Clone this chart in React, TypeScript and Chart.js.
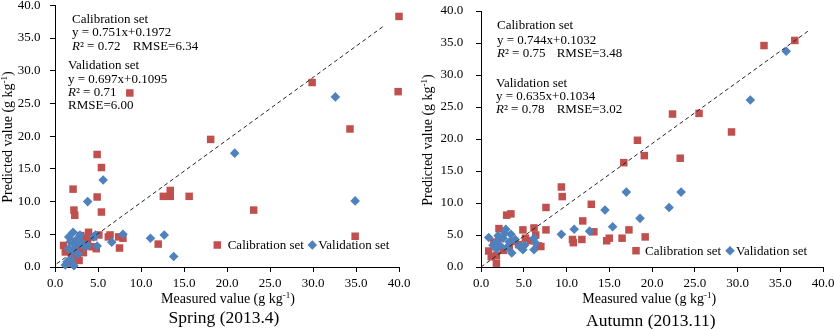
import React, { useEffect, useRef } from 'react';
import { Chart, registerables } from 'chart.js';

Chart.register(...registerables);

type Pt = [number, number];

const tickValues = [0, 5, 10, 15, 20, 25, 30, 35, 40];
const tickLabels = ['0.0', '5.0', '10.0', '15.0', '20.0', '25.0', '30.0', '35.0', '40.0'];

const seriesNames = ['Calibration set', 'Validation set'];

// Spring (2013.4)
const springCalibration: Pt[] = [
  [40.0, 38.3], [8.7, 26.6], [29.9, 28.2], [39.9, 26.8], [34.3, 21.1], [18.1, 19.5],
  [4.9, 17.2], [5.4, 15.2], [2.1, 11.9], [2.2, 8.7], [2.3, 7.9], [4.9, 10.7], [5.4, 8.4],
  [12.6, 10.8], [13.4, 11.7], [13.4, 10.8], [15.6, 10.8], [23.1, 8.7], [34.9, 4.7],
  [12.0, 3.5], [7.5, 2.9], [7.9, 4.4], [7.4, 4.6], [6.2, 4.6], [6.4, 4.9], [3.9, 5.3],
  [3.8, 4.2], [3.6, 4.4], [4.5, 4.6], [1.0, 3.3], [1.2, 2.3], [2.6, 1.3], [3.2, 2.8],
  [4.3, 3.1], [1.6, 0.6], [2.8, 1.0], [2.0, 3.9], [2.9, 3.6], [3.3, 2.2], [4.8, 2.8],
  [2.4, 2.6], [1.9, 2.0], [3.0, 4.8], [5.1, 4.9],
];
const springValidation: Pt[] = [
  [32.6, 26.0], [20.9, 17.4], [5.6, 13.3], [3.8, 10.0], [34.9, 10.1], [11.1, 4.4],
  [12.7, 4.9], [7.9, 5.0], [6.6, 3.8], [4.9, 3.2], [4.7, 4.9], [13.8, 1.6], [2.1, 5.3],
  [1.4, 0.8], [2.2, 0.2], [3.8, 3.3], [1.8, 3.9], [2.4, 3.3], [1.6, 2.8], [3.4, 3.1],
  [1.2, 0.3], [1.6, 4.6], [2.5, 4.2], [2.9, 4.9], [2.0, 2.5], [3.0, 3.9], [4.5, 4.6],
  [2.7, 2.0], [1.9, 1.2],
];
const springRefLine: Pt[] = [[0.2, 0.5], [38.3, 36.9]];
const springStats = ['y = 0.751x+0.1972', '0.72', 'RMSE=6.34', 'y = 0.697x+0.1095', '0.71', 'RMSE=6.00'];

// Autumn (2013.11)
const autumnCalibration: Pt[] = [
  [36.7, 35.4], [33.1, 34.6], [25.5, 24.0], [22.4, 23.9], [29.3, 21.1], [18.3, 19.8],
  [19.1, 17.4], [23.3, 17.0], [16.7, 16.3], [9.4, 12.5], [9.5, 11.0], [7.6, 9.3],
  [12.9, 9.8], [11.9, 7.2], [7.6, 5.8], [13.2, 5.5], [10.7, 4.3], [10.8, 3.8], [11.8, 4.3],
  [14.7, 4.1], [15.0, 4.5], [16.5, 4.5], [17.3, 5.8], [19.2, 4.7], [7.0, 3.2], [3.0, 8.1],
  [3.5, 8.3], [2.1, 6.0], [4.9, 5.8], [6.2, 6.1], [6.4, 5.0], [0.9, 2.5], [1.2, 1.6],
  [1.8, 0.6], [1.8, 1.8], [4.4, 3.5], [6.7, 3.3], [5.2, 4.5], [2.1, 4.5], [3.9, 4.0],
  [2.6, 2.6], [5.8, 4.1], [1.5, 3.9], [3.3, 3.0],
];
const autumnValidation: Pt[] = [
  [35.7, 33.7], [31.5, 26.1], [17.0, 11.7], [23.4, 11.7], [22.0, 9.3], [14.5, 8.9],
  [18.6, 7.6], [15.4, 6.3], [10.9, 5.9], [12.7, 5.6], [9.4, 5.1], [0.9, 4.6], [1.8, 3.9],
  [2.9, 5.9], [3.5, 5.1], [2.6, 4.5], [2.2, 3.4], [3.6, 2.2], [4.5, 3.2], [4.9, 2.7],
  [5.1, 3.4], [6.2, 4.5], [6.4, 3.7], [6.2, 2.7], [1.4, 3.4], [2.8, 5.3], [3.3, 3.9],
  [2.0, 4.9], [4.0, 4.3], [3.0, 3.0], [1.8, 2.8],
];
const autumnRefLine: Pt[] = [[0, 0], [38.3, 36.9]];
const autumnStats = ['y = 0.744x+0.1032', '0.75', 'RMSE=3.48', 'y = 0.635x+0.1034', '0.78', 'RMSE=3.02'];

const RED = '#C0504D';
const BLUE = '#4F81BD';
const SERIF = '"Liberation Serif", "Times New Roman", serif';

type Run = { text: string; font: string; dy?: number };

function drawRuns(ctx: CanvasRenderingContext2D, runs: Run[], x: number, y: number, align: 'left' | 'center') {
  let total = 0;
  for (const r of runs) {
    ctx.font = r.font;
    total += ctx.measureText(r.text).width;
  }
  let cx = align === 'center' ? x - total / 2 : x;
  ctx.textAlign = 'left';
  for (const r of runs) {
    ctx.font = r.font;
    ctx.fillText(r.text, cx, y + (r.dy || 0));
    cx += ctx.measureText(r.text).width;
  }
}

function drawSquare(ctx: CanvasRenderingContext2D, x: number, y: number, s: number) {
  ctx.fillStyle = RED;
  ctx.fillRect(x - s / 2, y - s / 2, s, s);
}
function drawDiamond(ctx: CanvasRenderingContext2D, x: number, y: number, r: number) {
  ctx.fillStyle = BLUE;
  ctx.beginPath();
  ctx.moveTo(x - r, y);
  ctx.lineTo(x, y - r);
  ctx.lineTo(x + r, y);
  ctx.lineTo(x, y + r);
  ctx.closePath();
  ctx.fill();
}

type Geo = {
  width: number;
  yAxisWidth: number;
  padTop: number;
  padRight: number;
  xAxisHeight: number;
  yTickPad: number;
  ann: { x1: number; x2: number; rmseX: number; ys: number[] };
  legend: { y: number; sqX: number; t1X: number; dmX: number; t2X: number };
  xTitle: { x: number; y: number };
  yTitle: { x: number; y: number };
  sub: { x: number; y: number; text: string };
};

function makeTextPlugin(geo: Geo, stats: string[]) {
  return {
    id: 'texts',
    afterDraw(chart: any) {
      const ctx: CanvasRenderingContext2D = chart.ctx;
      ctx.save();
      ctx.fillStyle = '#000';
      ctx.textBaseline = 'alphabetic';
      const f13 = `13px ${SERIF}`;
      const i13 = `italic 13px ${SERIF}`;
      const a = geo.ann;
      const ys = a.ys;
      drawRuns(ctx, [{ text: seriesNames[0], font: f13 }], a.x1, ys[0], 'left');
      drawRuns(ctx, [{ text: stats[0], font: f13 }], a.x1, ys[1], 'left');
      drawRuns(ctx, [{ text: 'R', font: i13 }, { text: '² = ' + stats[1], font: f13 }], a.x1, ys[2], 'left');
      drawRuns(ctx, [{ text: stats[2], font: f13 }], a.rmseX, ys[2], 'left');
      drawRuns(ctx, [{ text: seriesNames[1], font: f13 }], a.x2, ys[3], 'left');
      drawRuns(ctx, [{ text: stats[3], font: f13 }], a.x2, ys[4], 'left');
      drawRuns(ctx, [{ text: 'R', font: i13 }, { text: '² = ' + stats[4], font: f13 }], a.x2, ys[5], 'left');
      if (ys.length > 6) {
        drawRuns(ctx, [{ text: stats[5], font: f13 }], a.x2, ys[6], 'left');
      } else {
        drawRuns(ctx, [{ text: stats[5], font: f13 }], a.rmseX, ys[5], 'left');
      }

      // legend
      const L = geo.legend;
      drawSquare(ctx, L.sqX, L.y, 7.5);
      ctx.fillStyle = '#000';
      drawRuns(ctx, [{ text: seriesNames[0], font: f13 }], L.t1X, L.y + 4.3, 'left');
      drawDiamond(ctx, L.dmX, L.y, 4.8);
      ctx.fillStyle = '#000';
      drawRuns(ctx, [{ text: seriesNames[1], font: f13 }], L.t2X, L.y + 4.3, 'left');

      // axis titles
      const f14 = `14px ${SERIF}`;
      const f9 = `9px ${SERIF}`;
      const xRuns: Run[] = [
        { text: 'Measured value (g kg', font: f14 },
        { text: '-1', font: f9, dy: -5 },
        { text: ')', font: f14 },
      ];
      drawRuns(ctx, xRuns, geo.xTitle.x, geo.xTitle.y, 'center');
      const yRuns: Run[] = [
        { text: 'Predicted value (g kg', font: f14 },
        { text: '-1', font: f9, dy: -5 },
        { text: ')', font: f14 },
      ];
      ctx.save();
      ctx.translate(geo.yTitle.x, geo.yTitle.y);
      ctx.rotate(-Math.PI / 2);
      drawRuns(ctx, yRuns, 0, 0, 'center');
      ctx.restore();

      // subtitle
      drawRuns(ctx, [{ text: geo.sub.text, font: `17.5px ${SERIF}` }], geo.sub.x, geo.sub.y, 'center');
      ctx.restore();
    },
  };
}

function buildChart(canvas: HTMLCanvasElement, geo: Geo, cal: Pt[], val: Pt[], ref: Pt[], stats: string[]) {
  const toXY = (arr: Pt[]) => arr.map(([x, y]) => ({ x, y }));
  const tickFont = { family: SERIF, size: 13 };
  return new Chart(canvas, {
    type: 'scatter',
    data: {
      datasets: [
        {
          label: 'ref',
          type: 'line',
          data: toXY(ref),
          borderColor: '#222',
          borderWidth: 1,
          borderDash: [4, 3],
          pointRadius: 0,
          fill: false,
          clip: false,
        } as any,
        {
          label: seriesNames[1],
          data: toXY(val),
          pointStyle: 'rectRot',
          pointRadius: 4.8,
          pointHoverRadius: 4.8,
          backgroundColor: BLUE,
          borderWidth: 0,
          clip: false,
        } as any,
        {
          label: seriesNames[0],
          data: toXY(cal),
          pointStyle: 'rect',
          pointRadius: 5.3,
          pointHoverRadius: 5.3,
          backgroundColor: RED,
          borderWidth: 0,
          clip: false,
        } as any,
      ],
    },
    options: {
      animation: false,
      responsive: false,
      devicePixelRatio: 1,
      events: [],
      layout: { padding: { left: 0, top: geo.padTop, right: geo.padRight, bottom: 0 } },
      plugins: { legend: { display: false }, tooltip: { enabled: false }, title: { display: false } },
      scales: {
        x: {
          type: 'linear',
          min: 0,
          max: 40,
          afterBuildTicks: (scale: any) => {
            scale.ticks = tickValues.map((v) => ({ value: v }));
          },
          ticks: {
            callback: (v: any) => tickLabels[tickValues.indexOf(Number(v))],
            font: tickFont,
            color: '#000',
            padding: 3.5,
            maxRotation: 0,
            autoSkip: false,
          },
          grid: { display: true, drawOnChartArea: false, drawTicks: true, tickLength: 5, color: '#000', lineWidth: 1 },
          border: { display: true, color: '#000', width: 1 },
          afterFit: (scale: any) => {
            scale.height = geo.xAxisHeight;
            scale.paddingLeft = 0;
            scale.paddingRight = 0;
          },
        },
        y: {
          type: 'linear',
          min: 0,
          max: 40,
          afterBuildTicks: (scale: any) => {
            scale.ticks = tickValues.map((v) => ({ value: v }));
          },
          ticks: {
            callback: (v: any) => tickLabels[tickValues.indexOf(Number(v))],
            font: tickFont,
            color: '#000',
            padding: geo.yTickPad,
            autoSkip: false,
          },
          grid: { display: true, drawOnChartArea: false, drawTicks: true, tickLength: 5, color: '#000', lineWidth: 1 },
          border: { display: true, color: '#000', width: 1 },
          afterFit: (scale: any) => {
            scale.width = geo.yAxisWidth;
            scale.paddingTop = 0;
            scale.paddingBottom = 0;
          },
        },
      },
    } as any,
    plugins: [makeTextPlugin(geo, stats)],
  });
}

const springGeo: Geo = {
  width: 420,
  yAxisWidth: 55,
  padTop: 4,
  padRight: 21,
  xAxisHeight: 62,
  yTickPad: 9.5,
  ann: { x1: 72, x2: 68, rmseX: 132.7, ys: [22.7, 36, 50, 69.3, 82.5, 95.5, 109] },
  legend: { y: 245, sqX: 217.3, t1X: 227.7, dmX: 312.3, t2X: 318.3 },
  xTitle: { x: 228, y: 302.7 },
  yTitle: { x: 12, y: 137 },
  sub: { x: 224, y: 323, text: 'Spring (2013.4)' },
};

const autumnGeo: Geo = {
  width: 414,
  yAxisWidth: 61,
  padTop: 11,
  padRight: 11,
  xAxisHeight: 62,
  yTickPad: 12.7,
  ann: { x1: 77, x2: 76, rmseX: 136.7, ys: [29, 43.5, 57, 86.5, 100, 113] },
  legend: { y: 250.7, sqX: 216, t1X: 225, dmX: 310, t2X: 316 },
  xTitle: { x: 229.2, y: 302.7 },
  yTitle: { x: 12, y: 140 },
  sub: { x: 230.8, y: 326, text: 'Autumn (2013.11)' },
};

export default function App() {
  const leftRef = useRef<HTMLCanvasElement>(null);
  const rightRef = useRef<HTMLCanvasElement>(null);

  useEffect(() => {
    const c1 = buildChart(leftRef.current!, springGeo, springCalibration, springValidation, springRefLine, springStats);
    const c2 = buildChart(rightRef.current!, autumnGeo, autumnCalibration, autumnValidation, autumnRefLine, autumnStats);
    return () => {
      c1.destroy();
      c2.destroy();
    };
  }, []);

  return (
    <div style={{ position: 'absolute', left: 0, top: 0, width: 834, height: 329, background: '#fff', overflow: 'hidden' }}>
      <canvas ref={leftRef} width={420} height={329} style={{ position: 'absolute', left: 0, top: 0, width: 420, height: 329 }} />
      <canvas ref={rightRef} width={414} height={329} style={{ position: 'absolute', left: 420, top: 0, width: 414, height: 329 }} />
    </div>
  );
}
